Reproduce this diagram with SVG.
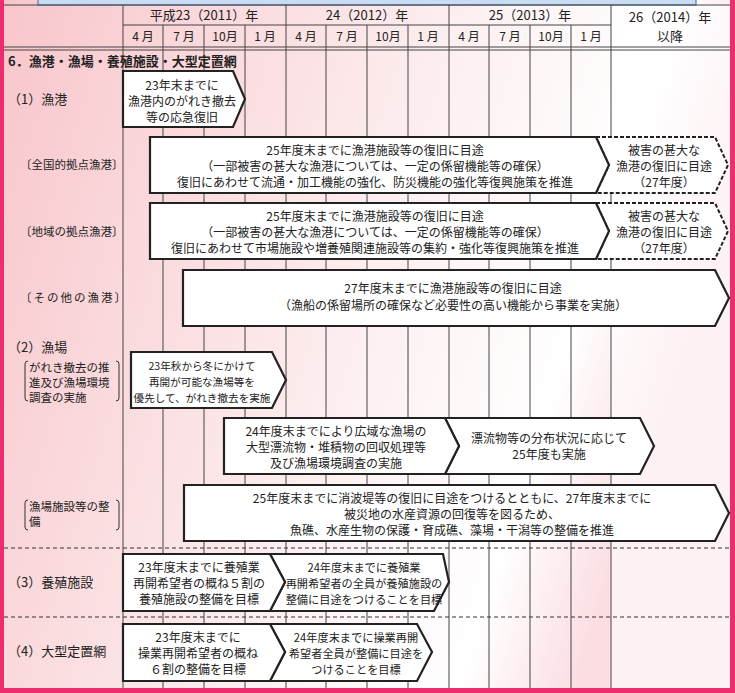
<svg xmlns="http://www.w3.org/2000/svg" width="735" height="693" viewBox="0 0 735 693">
<defs>
<linearGradient id="bg" x1="0" y1="0" x2="1" y2="0.3">
<stop offset="0" stop-color="#f8c6cb"/><stop offset="0.6" stop-color="#fdf0f1"/><stop offset="0.85" stop-color="#ffffff"/><stop offset="1" stop-color="#fbdde2"/>
</linearGradient>
<style>
text{font-family:"Noto Sans CJK JP","Liberation Sans",sans-serif;font-size:12px;fill:#222}
.c{text-anchor:middle}
.b{font-weight:bold;font-size:13px}
.l{font-size:13px}
.s{font-size:11.5px}
.t{font-size:11.2px}
.u{font-size:10.6px}
.g{stroke:#444;stroke-width:1}
.box{fill:#fff;stroke:#222;stroke-width:2.2;stroke-linejoin:miter}
.dbox{fill:#fff;stroke:#222;stroke-width:2;stroke-dasharray:4 2}
.dl{stroke:#333;stroke-width:1;stroke-dasharray:4 3}
</style>
</defs>
<rect x="0" y="0" width="735" height="693" fill="#ee2d6e"/>
<rect x="4" y="0" width="726" height="688" fill="url(#bg)"/>
<rect x="611" y="5" width="119" height="683" fill="#fff" opacity="0.6"/>
<rect x="38" y="-2" width="658" height="7" fill="#c9dcf2" stroke="#3a68b3" stroke-width="1"/>
<g id="grid">
<line class="g" x1="4" y1="5" x2="730" y2="5"/>
<line class="g" x1="123" y1="25" x2="611" y2="25"/>
<line class="g" x1="4" y1="47" x2="730" y2="47"/>
<line class="g" x1="4" y1="50" x2="730" y2="50"/>
<line class="g" x1="123" y1="5" x2="123" y2="688"/>
<line class="g" x1="163" y1="25" x2="163" y2="688"/>
<line class="g" x1="204" y1="25" x2="204" y2="688"/>
<line class="g" x1="245" y1="25" x2="245" y2="688"/>
<line class="g" x1="286" y1="5" x2="286" y2="688"/>
<line class="g" x1="326" y1="25" x2="326" y2="688"/>
<line class="g" x1="367" y1="25" x2="367" y2="688"/>
<line class="g" x1="408" y1="25" x2="408" y2="688"/>
<line class="g" x1="449" y1="5" x2="449" y2="688"/>
<line class="g" x1="489" y1="25" x2="489" y2="688"/>
<line class="g" x1="530" y1="25" x2="530" y2="688"/>
<line class="g" x1="571" y1="25" x2="571" y2="688"/>
<line class="g" x1="611" y1="5" x2="611" y2="688"/>
<line class="dl" x1="4" y1="548" x2="730" y2="548"/>
<line class="dl" x1="4" y1="617" x2="730" y2="617"/>
</g>
<g id="header">
<text class="c l" x="204" y="20">平成23（2011）年</text>
<text class="c l" x="367" y="20">24（2012）年</text>
<text class="c l" x="530" y="20">25（2013）年</text>
<text class="c l" x="670" y="22">26（2014）年</text>
<text class="c l" x="670" y="41">以降</text>
<text class="c" x="143" y="41">4 月</text><text class="c" x="184" y="41">7 月</text><text class="c" x="225" y="41">10月</text><text class="c" x="265" y="41">1 月</text>
<text class="c" x="306" y="41">4 月</text><text class="c" x="347" y="41">7 月</text><text class="c" x="388" y="41">10月</text><text class="c" x="428" y="41">1 月</text>
<text class="c" x="469" y="41">4 月</text><text class="c" x="510" y="41">7 月</text><text class="c" x="551" y="41">10月</text><text class="c" x="591" y="41">1 月</text>
</g>
<g id="labels">
<text class="b" x="8" y="66">6．漁港・漁場・養殖施設・大型定置網</text>
<text class="l" x="8" y="104">（1）漁港</text>
<text class="s" x="20" y="169">〔全国的拠点漁港〕</text>
<text class="s" x="20" y="236">〔地域の拠点漁港〕</text>
<text class="s" x="20" y="302" letter-spacing="2">〔その他の漁港〕</text>
<text class="l" x="8" y="352">（2）漁場</text>
<text class="s" x="29" y="372">がれき撤去の推</text>
<text class="s" x="29" y="387">進及び漁場環境</text>
<text class="s" x="29" y="402">調査の実施</text>
<path d="M28 361 q-3 0 -3 3 v34 q0 3 3 3 M116 361 q3 0 3 3 v34 q0 3 -3 3" fill="none" stroke="#333"/>
<text class="s" x="29" y="511">漁場施設等の整</text>
<text class="s" x="29" y="526">備</text>
<path d="M28 500 q-3 0 -3 3 v24 q0 3 3 3 M116 500 q3 0 3 3 v24 q0 3 -3 3" fill="none" stroke="#333"/>
<text class="l" x="8" y="587">（3）養殖施設</text>
<text class="l" x="8" y="656">（4）大型定置網</text>
</g>
<g id="n1">
<path class="box" d="M123 71 H233 L245 99 L233 127 H123 Z"/>
<text class="c" x="182" y="90">23年末までに</text><text class="c" x="182" y="106">漁港内のがれき撤去</text><text class="c" x="182" y="122">等の応急復旧</text>
</g>
<g id="n2">
<path class="dbox" d="M596 137 H715 L728 165 L715 193 H596 L609 165 Z"/>
<path class="box" d="M150 137 H596 L609 165 L596 193 H150 Z"/>
<text class="c" x="375" y="155">25年度末までに漁港施設等の復旧に目途</text>
<text class="c" x="375" y="171">（一部被害の甚大な漁港については、一定の係留機能等の確保）</text>
<text class="c" x="375" y="187">復旧にあわせて流通・加工機能の強化、防災機能の強化等復興施策を推進</text>
<text class="c" x="664" y="155">被害の甚大な</text><text class="c" x="664" y="171">漁港の復旧に目途</text><text class="c" x="664" y="187">（27年度）</text>
</g>
<g id="n3">
<path class="dbox" d="M596 203 H715 L728 231 L715 259 H596 L609 231 Z"/>
<path class="box" d="M150 203 H596 L609 231 L596 259 H150 Z"/>
<text class="c" x="375" y="221">25年度末までに漁港施設等の復旧に目途</text>
<text class="c" x="375" y="237">（一部被害の甚大な漁港については、一定の係留機能等の確保）</text>
<text class="c" x="375" y="253">復旧にあわせて市場施設や増養殖関連施設等の集約・強化等復興施策を推進</text>
<text class="c" x="664" y="221">被害の甚大な</text><text class="c" x="664" y="237">漁港の復旧に目途</text><text class="c" x="664" y="253">（27年度）</text>
</g>
<g id="n4">
<path class="box" d="M183 270 H715 L729 298 L715 326 H183 Z"/>
<text class="c" x="453" y="293">27年度末までに漁港施設等の復旧に目途</text>
<text class="c" x="453" y="310">（漁船の係留場所の確保など必要性の高い機能から事業を実施）</text>
</g>
<g id="n5">
<path class="box" d="M131 352 H272 L286 380 L272 408 H131 Z"/>
<text class="c u" x="202" y="370">23年秋から冬にかけて</text><text class="c u" x="202" y="386">再開が可能な漁場等を</text><text class="c u" x="202" y="402">優先して、がれき撤去を実施</text>
</g>
<g id="n6">
<path class="box" d="M445 418 H640 L654 446 L640 474 H445 L459 446 Z"/>
<path class="box" d="M224 418 H445 L459 446 L445 474 H224 Z"/>
<text class="c" x="336" y="436">24年度末までにより広域な漁場の</text><text class="c" x="336" y="452">大型漂流物・堆積物の回収処理等</text><text class="c" x="336" y="468">及び漁場環境調査の実施</text>
<text class="c" x="549" y="443">漂流物等の分布状況に応じて</text><text class="c" x="549" y="459">25年度も実施</text>
</g>
<g id="n7">
<path class="box" d="M184 485 H715 L729 513 L715 541 H184 Z"/>
<text class="c" x="452" y="503">25年度末までに消波堤等の復旧に目途をつけるとともに、27年度末までに</text>
<text class="c" x="452" y="519">被災地の水産資源の回復等を図るため、</text>
<text class="c" x="452" y="535">魚礁、水産生物の保護・育成礁、藻場・干潟等の整備を推進</text>
</g>
<g id="n8">
<path class="box" d="M270 554 H443 L449 582 L434 611 H270 L285 582 Z"/>
<path class="box" d="M123 554 H270 L285 582 L270 611 H123 Z"/>
<text class="c" x="199" y="572">23年度末までに養殖業</text><text class="c" x="199" y="588">再開希望者の概ね５割の</text><text class="c" x="199" y="604">養殖施設の整備を目標</text>
<text class="c t" x="364" y="572">24年度末までに養殖業</text><text class="c t" x="364" y="588">再開希望者の全員が養殖施設の</text><text class="c t" x="364" y="604">整備に目途をつけることを目標</text>
</g>
<g id="n9">
<path class="box" d="M270 624 H417 L432 652 L417 681 H270 L285 652 Z"/>
<path class="box" d="M123 624 H270 L285 652 L270 681 H123 Z"/>
<text class="c" x="198" y="642">23年度末までに</text><text class="c" x="198" y="658">操業再開希望者の概ね</text><text class="c" x="198" y="674">６割の整備を目標</text>
<text class="c t" x="356" y="642">24年度末までに操業再開</text><text class="c t" x="356" y="658">希望者全員が整備に目途を</text><text class="c t" x="356" y="674">つけることを目標</text>
</g>
<g id="connectors"></g>
</svg>
